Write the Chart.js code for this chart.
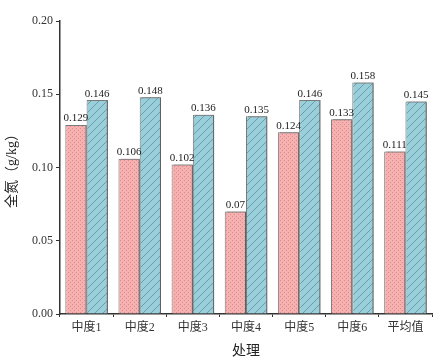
<!DOCTYPE html>
<html><head><meta charset="utf-8">
<script src="https://cdn.jsdelivr.net/npm/chart.js@4/dist/chart.umd.min.js"></script>
<style>html,body{margin:0;padding:0;background:#fff}#w{width:443px;height:364px}</style>
</head><body><div id="w"><canvas id="c" width="443" height="364"></canvas></div>
<script>
const categories = ['中度1','中度2','中度3','中度4','中度5','中度6','平均值'];
const seriesA = [0.129,0.106,0.102,0.07,0.124,0.133,0.111];
const seriesB = [0.146,0.148,0.136,0.135,0.146,0.158,0.145];
const labelsA = ['0.129','0.106','0.102','0.07','0.124','0.133','0.111'];
const labelsB = ['0.146','0.148','0.136','0.135','0.146','0.158','0.145'];
const yTicks = [0,0.05,0.10,0.15,0.20];

function dotPattern(){
  const p=document.createElement('canvas');p.width=4;p.height=4;
  const g=p.getContext('2d');g.fillStyle='#f7b0b0';g.fillRect(0,0,4,4);
  g.fillStyle='#d98c8c';g.fillRect(0,0,1,1);g.fillRect(2,2,1,1);
  return g.createPattern(p,'repeat');
}
function hatchPattern(){
  const s=8;const p=document.createElement('canvas');p.width=s;p.height=s;
  const g=p.getContext('2d');g.fillStyle='#98cfdb';g.fillRect(0,0,s,s);
  g.strokeStyle='#5f8f9a';g.lineWidth=0.8;
  g.beginPath();g.moveTo(0,s);g.lineTo(s,0);g.moveTo(-2,2);g.lineTo(2,-2);g.moveTo(s-2,s+2);g.lineTo(s+2,s-2);g.stroke();
  return g.createPattern(p,'repeat');
}
const serif = "'Liberation Serif','Noto Sans CJK SC',serif";

const shadowPlugin = {
  id:'shadow',
  beforeDatasetsDraw(chart){const c=chart.ctx;c.save();c.shadowColor='rgba(90,90,90,0.9)';c.shadowOffsetX=2;c.shadowOffsetY=0;c.shadowBlur=0;},
  afterDatasetsDraw(chart){chart.ctx.restore();}
};
const labelPlugin = {
  id:'vals',
  afterDatasetsDraw(chart){
    const c=chart.ctx;c.save();c.font="11px 'Liberation Serif',serif";c.fillStyle='#222';c.textAlign='center';c.textBaseline='bottom';
    [labelsA,labelsB].forEach((labs,di)=>{
      chart.getDatasetMeta(di).data.forEach((el,i)=>{c.fillText(labs[i],el.x,el.y-1);});
    });
    c.restore();
  }
};

new Chart(document.getElementById('c'),{
  type:'bar',
  data:{labels:categories,datasets:[
    {data:seriesA,backgroundColor:dotPattern(),borderColor:'#7a7a7a',borderWidth:1,borderSkipped:'bottom'},
    {data:seriesB,backgroundColor:hatchPattern(),borderColor:'#7a7a7a',borderWidth:1,borderSkipped:'bottom'}
  ]},
  options:{
    responsive:false,animation:false,devicePixelRatio:1,
    categoryPercentage:0.8,barPercentage:1,
    layout:{padding:{top:21,right:11,left:0,bottom:0}},
    plugins:{legend:{display:false},tooltip:{enabled:false}},
    scales:{
      x:{
        grid:{display:true,drawOnChartArea:false,offset:true,tickLength:3,color:'#333'},
        border:{display:true,color:'#333',width:1.5},
        ticks:{color:'#333',font:{family:serif,size:12},padding:4,maxRotation:0},
        title:{display:true,text:'处理',color:'#222',font:{family:serif,size:14},padding:{top:2}},
        afterFit(s){s.height=50;}
      },
      y:{
        min:0,max:0.2,
        afterBuildTicks(s){s.ticks=yTicks.map(v=>({value:v}));},
        grid:{display:true,drawOnChartArea:false,tickLength:4,color:'#333'},
        border:{display:true,color:'#333',width:1.5},
        ticks:{color:'#333',font:{family:serif,size:12},padding:3,callback:v=>v.toFixed(2)},
        title:{display:true,text:'全氮（g/kg）',color:'#222',font:{family:serif,size:14},padding:{bottom:4}},
        afterFit(s){s.width=60;}
      }
    }
  },
  plugins:[shadowPlugin,labelPlugin]
});
</script></body></html>
